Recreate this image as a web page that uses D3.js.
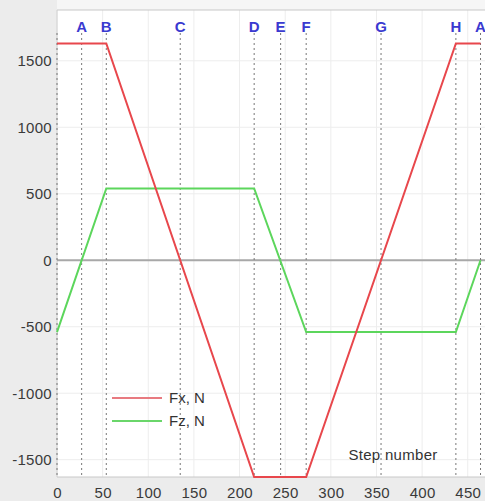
<!DOCTYPE html>
<html>
<head>
<meta charset="utf-8">
<script src="https://cdn.jsdelivr.net/npm/d3@7"></script>
<style>
  body { margin: 0; background: #ececec; }
  text { font-family: "Liberation Sans", Arial, sans-serif; }
</style>
</head>
<body>
<div id="chart"></div>
<script>
// breakpoints of the step cycle
var markNames = ["A", "B", "C", "D", "E", "F", "G", "H", "A"];
var markSteps = [27, 54, 135, 216, 245, 273, 355, 437, 464];

// Fx, N
var fxSteps = [0, 54, 216, 273, 437, 464];
var fxValues = [1630, 1630, -1630, -1630, 1630, 1630];

// Fz, N
var fzSteps = [0, 54, 216, 273, 437, 464];
var fzValues = [-540, 540, 540, -540, -540, 0];

var xTicks = [0, 50, 100, 150, 200, 250, 300, 350, 400, 450];
var yTicks = [-1500, -1000, -500, 0, 500, 1000, 1500];

var width = 485,
    height = 501;

var svg = d3.select("#chart")
    .append("svg")
    .attr("width", width)
    .attr("height", height)

var x = d3.scaleLinear().domain([0, 470]).range([57, 486]);
var y = d3.scaleLinear().domain([-1630, 1882]).range([477, 10]);

svg.append("rect").attr("x", 57).attr("y", 0).attr("width", width).attr("height", 10).attr("fill", "#f6f6f6");
svg.append("rect")
    .attr("x", x(0)).attr("y", y(1882))
    .attr("width", x(470) - x(0)).attr("height", y(-1630) - y(1882))
    .attr("fill", "#fff");

// grid
svg.append("g").selectAll("line").data(xTicks).enter().append("line")
    .attr("x1", function(d){ return x(d); }).attr("x2", function(d){ return x(d); })
    .attr("y1", y(1882)).attr("y2", y(-1630))
    .style("stroke", "#ededed").style("stroke-width", 1);
svg.append("g").selectAll("line").data(yTicks).enter().append("line")
    .attr("x1", x(0)).attr("x2", x(470))
    .attr("y1", function(d){ return y(d); }).attr("y2", function(d){ return y(d); })
    .style("stroke", "#ededed").style("stroke-width", 1);

// frame
svg.append("line").attr("x1", x(0)).attr("x2", x(470)).attr("y1", y(1882)).attr("y2", y(1882))
    .style("stroke", "#c8c8c8");
svg.append("line").attr("x1", x(0)).attr("x2", x(470)).attr("y1", y(-1630)).attr("y2", y(-1630))
    .style("stroke", "#c8c8c8");
svg.append("line").attr("x1", x(0)).attr("x2", x(0)).attr("y1", y(1882)).attr("y2", y(-1630))
    .style("stroke", "#d0d0d0");

// axes
var fmt = function(d){ return String(d); };
var xAxis = svg.append("g")
    .attr("transform", "translate(0," + y(-1630) + ")")
    .call(d3.axisBottom(x).tickValues(xTicks).tickFormat(fmt).tickSize(0).tickPadding(10));
var yAxis = svg.append("g")
    .attr("transform", "translate(" + x(0) + ",0)")
    .call(d3.axisLeft(y).tickValues(yTicks).tickFormat(fmt).tickSize(0).tickPadding(5));
[xAxis, yAxis].forEach(function(a){
    a.select(".domain").remove();
    a.selectAll("text").style("font-size", "15px").style("letter-spacing", "0.3px").attr("fill", "#3a3a3a");
});

// zero line
svg.append("line")
    .attr("x1", x(0)).attr("x2", x(470))
    .attr("y1", y(0)).attr("y2", y(0))
    .style("stroke", "#a8a8a8").style("stroke-width", 2);

// dashed step markers
svg.append("g").selectAll("line").data([0].concat(markSteps)).enter().append("line")
    .attr("x1", function(d){ return x(d); }).attr("x2", function(d){ return x(d); })
    .attr("y1", 33).attr("y2", y(-1630))
    .style("stroke", "#777").style("stroke-width", 1)
    .style("stroke-dasharray", "2,3");

svg.append("g").selectAll("text").data(markNames).enter().append("text")
    .attr("x", function(d, i){ return x(markSteps[i]); })
    .attr("y", 32)
    .attr("text-anchor", "middle")
    .attr("fill", "#3a3ad0")
    .style("font-size", "15px")
    .style("font-weight", "bold")
    .text(function(d){ return d; });

var line = d3.line()
    .x(function(d){ return x(d[0]); })
    .y(function(d){ return y(d[1]); });

svg.append("path")
    .attr("d", line(d3.zip(fzSteps, fzValues)))
    .attr("fill", "none")
    .style("stroke", "#5cd65c").style("stroke-width", 2);
svg.append("path")
    .attr("d", line(d3.zip(fxSteps, fxValues)))
    .attr("fill", "none")
    .style("stroke", "#e8474c").style("stroke-width", 2);

// legend
var legend = [["Fx, N", "#e87a80"], ["Fz, N", "#6ad66a"]];
legend.forEach(function(l, i){
    var ly = 398 + i * 23;
    svg.append("line").attr("x1", 112).attr("x2", 162).attr("y1", ly).attr("y2", ly)
        .style("stroke", l[1]).style("stroke-width", 2);
    svg.append("text").attr("x", 169).attr("y", ly + 5)
        .attr("fill", "#333").style("font-size", "15px").text(l[0]);
});

svg.append("text")
    .attr("x", 393).attr("y", 460)
    .attr("text-anchor", "middle")
    .attr("fill", "#333").style("font-size", "15px").style("letter-spacing", "0.3px")
    .text("Step number");
</script>
</body>
</html>
